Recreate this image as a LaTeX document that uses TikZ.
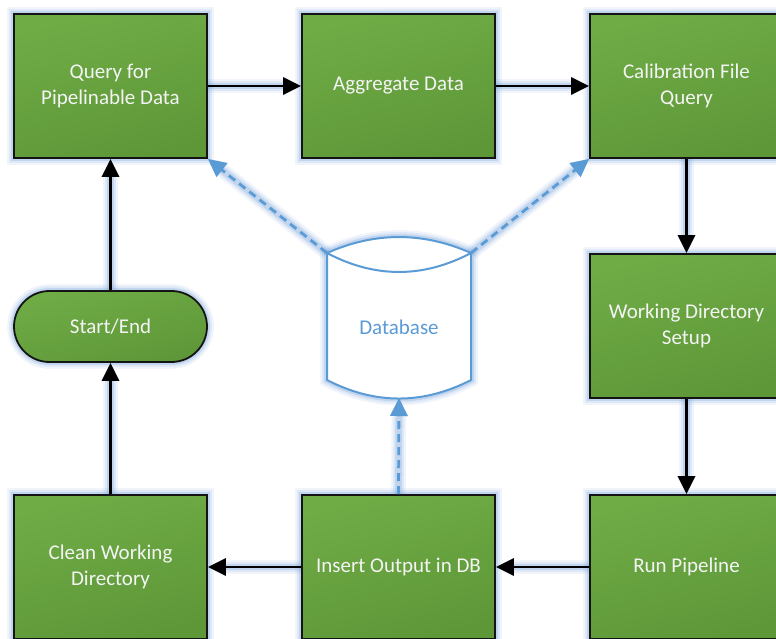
\documentclass[tikz,border=0pt]{standalone}
\usepackage{fontspec}
\setmainfont{Carlito}
\usetikzlibrary{arrows.meta,shapes.misc}

\definecolor{boxtop}{HTML}{6FAC46}
\definecolor{boxbot}{HTML}{5E9738}
\definecolor{boxline}{HTML}{141414}
\definecolor{halo}{HTML}{7FA8DC}
\definecolor{dbblue}{HTML}{5B9BD5}
\definecolor{labelwhite}{HTML}{F4F4F4}

\tikzset{
  glow/.style={
    preaction={draw=halo, line width=#1+12pt, draw opacity=0.11},
    preaction={draw=halo, line width=#1+8pt, draw opacity=0.17},
    preaction={draw=halo, line width=#1+4pt, draw opacity=0.30}},
  procbox/.style={rectangle, glow=1.8pt, draw=boxline, line width=1.8pt,
    top color=boxtop, bottom color=boxbot, shading angle=15,
    minimum width=193pt, minimum height=144pt, inner sep=0pt,
    text=labelwhite, font=\fontsize{21}{26}\selectfont, align=center},
  termbox/.style={procbox, rounded rectangle, minimum height=71pt},
  flow/.style={glow=2.8pt, draw=black, line width=2.8pt,
    -{Triangle[length=18pt,width=17pt]}},
  dbflow/.style={glow=2.8pt, draw=dbblue, line width=2.8pt,
    dash pattern=on 8pt off 5pt,
    -{Triangle[length=18pt,width=17pt]}},
}

\begin{document}
\begin{tikzpicture}[x=1pt,y=-1pt]
\useasboundingbox (0,0) rectangle (776,638);

% process steps
\node[procbox] (query) at (110.5,86) {Query for\\Pipelinable Data};
\node[procbox] (agg)   at (398.5,86) {Aggregate Data};
\node[procbox] (calib) at (686.5,86) {Calibration File\\Query};
\node[procbox] (wds)   at (686.5,326) {Working Directory\\Setup};
\node[procbox] (run)   at (686.5,567) {Run Pipeline};
\node[procbox] (ins)   at (398.5,567) {Insert Output in DB};
\node[procbox] (clean) at (110.5,567) {Clean Working\\Directory};
\node[termbox] (start) at (110.5,326.5) {Start/End};

% database cylinder
\coordinate (dbL) at (327,253);
\coordinate (dbR) at (471,253);
\coordinate (dbB) at (399,398);
\path[glow=2pt, draw=dbblue, line width=2pt, fill=white]
  (327,253) .. controls (375,231.7) and (423,231.7) .. (471,253)
  -- (471,380) .. controls (423,404.7) and (375,404.7) .. (327,380)
  -- cycle;
\draw[dbblue, line width=2pt]
  (327,253) .. controls (375,278.3) and (423,278.3) .. (471,253);
\node[text=dbblue, font=\fontsize{21}{26}\selectfont] (db) at (399,327.5) {Database};

% main flow
\draw[flow] (query) -- (agg);
\draw[flow] (agg) -- (calib);
\draw[flow] (calib) -- (wds);
\draw[flow] (wds) -- (run);
\draw[flow] (run) -- (ins);
\draw[flow] (ins) -- (clean);
\draw[flow] (clean) -- (start);
\draw[flow] (start) -- (query);

% database links
\draw[dbflow] (dbL) -- (query.south east);
\draw[dbflow] (dbR) -- (calib.south west);
\draw[dbflow] (ins.north) -- (dbB);
\end{tikzpicture}
\end{document}
